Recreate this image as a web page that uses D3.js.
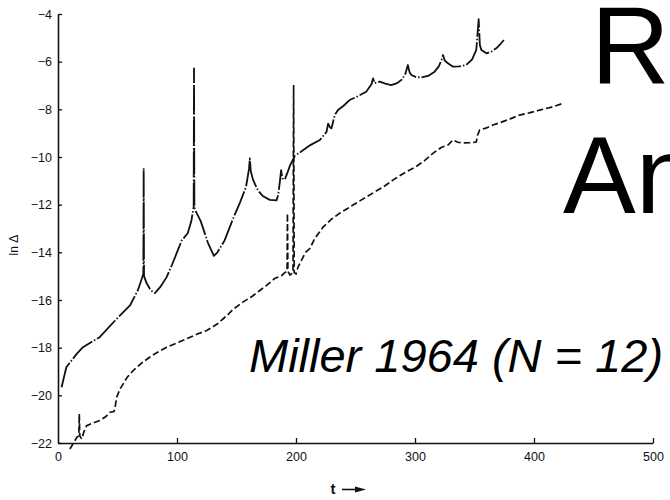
<!DOCTYPE html>
<html>
<head>
<meta charset="utf-8">
<script src="https://cdn.jsdelivr.net/npm/d3@7"></script>
<style>
  body { margin: 0; background: #fff; }
  svg { display: block; font-family: "Liberation Sans", Arial, sans-serif; }
</style>
</head>
<body>
<div id="chart"></div>
<script>
// upper run (dash-dot curve), t and ln Delta
let upperT = [3,7,15.7,21,35,48,60.5,67,70.5,71.7,72,72.3,74.5,78,81.4,86,91.3,96,100.8,104,109,112,114,114.3,114.6,114.9,117,120,126,131,134,140,147,153,158,160.5,161.2,162,164,168,172.4,178,183.6,185,186.4,187.5,188.5,190.5,192.5,195,199,205,212,220,225.6,227,228.5,229.8,232.6,235.3,240,245,252,259,263.4,264.8,266,270.4,275,280,285,289,292,294,295.5,297,301,305,311,316.5,320,322.5,323.5,325,327.7,331.9,337,343,348,351.5,353.5,354.5,355.8,360,364,368.3,372,374.7];
let upperV = [-19.66,-18.82,-18.26,-17.98,-17.56,-16.86,-16.23,-15.6,-15.1,-14.9,-10.47,-15.0,-15.3,-15.6,-15.71,-15.45,-15.04,-14.5,-13.9,-13.5,-13.2,-12.7,-12.1,-6.28,-12.0,-12.2,-12.4,-12.7,-13.6,-14.15,-14.0,-13.5,-12.6,-11.9,-11.26,-10.5,-10.06,-10.6,-10.97,-11.4,-11.65,-11.8,-11.82,-11.6,-11.05,-10.55,-10.9,-10.95,-10.7,-10.35,-9.95,-9.75,-9.5,-9.29,-8.95,-8.6,-8.75,-8.8,-8.24,-8.03,-7.85,-7.61,-7.45,-7.26,-6.95,-6.7,-6.9,-6.84,-6.92,-6.98,-6.9,-6.75,-6.5,-6.14,-6.45,-6.56,-6.65,-6.66,-6.6,-6.42,-6.2,-5.9,-5.72,-5.95,-6.07,-6.21,-6.2,-6.14,-5.9,-5.51,-4.22,-5.3,-5.51,-5.65,-5.58,-5.44,-5.25,-5.09];

// lower run (dashed curve)
let lowerT = [10,13,16,17.5,17.9,18.3,19.9,22,24.1,30,35,40,43.7,47,48,49.3,52,54.8,58,63.2,70,77,84,91.3,100,108,116,125,134,143,147,155,163,169.6,175,182,187.8,190.6,192.5,192.8,193.2,195,197.5,198,198.5,200,201.7,205,208,211.6,216,222.8,230,237,245.2,255,265,273.2,282,290,301,308,315,322,327.7,331.9,336,340.3,346,351.5,352.5,354.3,360,365.5,372,380,387.9,396,404.7,414,424.3];
let lowerV = [-22.25,-22.0,-21.75,-21.7,-20.78,-21.7,-21.83,-21.5,-21.27,-21.15,-21.06,-20.9,-20.71,-20.68,-20.5,-20.08,-19.75,-19.52,-19.25,-18.96,-18.66,-18.4,-18.18,-17.98,-17.8,-17.63,-17.45,-17.28,-17.0,-16.6,-16.4,-16.1,-15.85,-15.6,-15.4,-15.1,-14.98,-14.85,-14.8,-12.37,-14.8,-14.95,-14.85,-6.98,-14.85,-14.9,-14.62,-14.3,-14.0,-13.84,-13.4,-12.94,-12.6,-12.35,-12.1,-11.8,-11.5,-11.26,-10.95,-10.7,-10.4,-10.15,-9.85,-9.6,-9.5,-9.29,-9.38,-9.41,-9.4,-9.37,-9.1,-8.87,-8.78,-8.66,-8.55,-8.4,-8.24,-8.15,-8.03,-7.92,-7.75];

let xTicks = [0,100,200,300,400,500];
let yTicks = [-4,-6,-8,-10,-12,-14,-16,-18,-20,-22];

let svgWidth = 670;
let svgHeight = 500;

let svg = d3.select("#chart")
  .append("svg")
  .attr("width", svgWidth)
  .attr("height", svgHeight)

let xScale = d3.scaleLinear().domain([0,500]).range([58,653])
let yScale = d3.scaleLinear().domain([-22,-4]).range([443,14])

// axes with inward ticks
let xAxis = d3.axisBottom(xScale).tickValues(xTicks).tickSizeInner(-5).tickSizeOuter(0).tickPadding(9)
let yAxis = d3.axisLeft(yScale).tickValues(yTicks).tickSizeInner(-4).tickSizeOuter(0).tickPadding(6)

let gx = svg.append("g")
  .attr("transform", `translate(0,${yScale(-22)})`)
  .call(xAxis)

let gy = svg.append("g")
  .attr("transform", `translate(${xScale(0)},0)`)
  .call(yAxis)

svg.selectAll(".domain").attr("stroke", "#111").attr("stroke-width", 1.6)
svg.selectAll(".tick line").attr("stroke", "#111").attr("stroke-width", 1.3)
svg.selectAll(".tick text")
  .attr("font-family", "'Liberation Sans', Arial, sans-serif")
  .attr("font-size", 12.5)
  .attr("fill", "#111")
gx.selectAll(".tick").filter(d => d === 0).select("line").remove()

// axis titles
svg.append("text")
  .attr("transform", `translate(18,${yScale(-13.7)}) rotate(-90)`)
  .attr("text-anchor", "middle")
  .attr("font-size", 12)
  .attr("fill", "#111")
  .text("ln Δ")

svg.append("text")
  .attr("x", 333)
  .attr("y", 494)
  .attr("text-anchor", "middle")
  .attr("font-size", 15)
  .attr("font-weight", "bold")
  .attr("fill", "#111")
  .text("t")

svg.append("path")
  .attr("d", "M342,489.5 L357,489.5")
  .attr("stroke", "#111")
  .attr("stroke-width", 1.6)
svg.append("path")
  .attr("d", "M355,486.5 L366,489.5 L355,492.5 Z")
  .attr("fill", "#111")

// curves
let line = d3.line()
  .x(d => xScale(d[0]))
  .y(d => yScale(d[1]))

let upper = upperT.map((t,i) => [t, upperV[i]])
let lower = lowerT.map((t,i) => [t, lowerV[i]])

svg.append("path")
  .datum(upper)
  .attr("d", line)
  .attr("fill", "none")
  .attr("stroke", "#111")
  .attr("stroke-width", 1.8)
  .attr("stroke-linejoin", "round")
  .attr("stroke-dasharray", "26,2,1.5,2")

svg.append("path")
  .datum(lower)
  .attr("d", line)
  .attr("fill", "none")
  .attr("stroke", "#111")
  .attr("stroke-width", 1.7)
  .attr("stroke-dasharray", "6.5,3")

// overlay slide text
svg.append("text")
  .attr("x", 591)
  .attr("y", 83)
  .attr("font-size", 109)
  .attr("fill", "#000")
  .text("R")

svg.append("text")
  .attr("x", 563)
  .attr("y", 213)
  .attr("font-size", 109)
  .attr("fill", "#000")
  .text("An")

svg.append("text")
  .attr("x", 249)
  .attr("y", 372)
  .attr("font-size", 47)
  .attr("font-style", "italic")
  .attr("fill", "#000")
  .text("Miller 1964 (N = 12)")
</script>
</body>
</html>
